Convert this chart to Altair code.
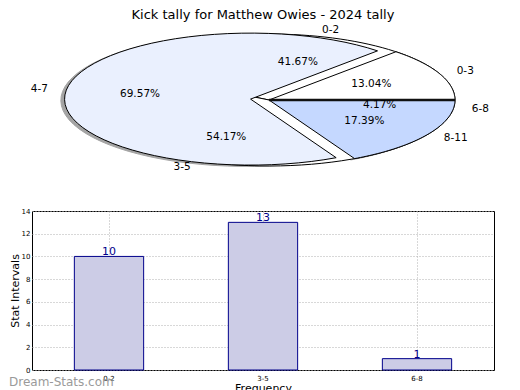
import altair as alt
import pandas as pd

TITLE = "Kick tally for Matthew Owies - 2024 tally"

# Pie A (drawn underneath)
pie_a_labels = ["0-2", "3-5", "6-8"]
pie_a_values = [10, 13, 1]
pie_a_colors = ["#ffffff", "#ffffff", "#ffffff"]
pie_a_explode = [0.0, 0.0, 0.0]

# Pie B (drawn on top)
pie_b_labels = ["0-3", "4-7", "8-11"]
pie_b_values = [3, 16, 4]
pie_b_colors = ["#ffffff", "#eaf0fe", "#c5d8ff"]
pie_b_explode = [0.0, 0.1, 0.0]

# Bar chart
bar_categories = ["0-2", "3-5", "6-8"]
bar_values = [10, 13, 1]
y_ticks = [0, 2, 4, 6, 8, 10, 12, 14]

rows = []
for pie, labs, vals, cols, exps in (("a", pie_a_labels, pie_a_values, pie_a_colors, pie_a_explode),
                                    ("b", pie_b_labels, pie_b_values, pie_b_colors, pie_b_explode)):
    for i, (l, v, c, e) in enumerate(zip(labs, vals, cols, exps)):
        rows.append({"pie": pie, "slot": i, "label": l, "value": v, "color": c, "explode": e})
pie_df = pd.DataFrame(rows)

N = 60  # arc resolution

xs = alt.Scale(domain=[-1.2742, 1.2097], nice=False, zero=False)
ys = alt.Scale(domain=[-1.1667, 1.1515], nice=False, zero=False)

base = (
    alt.Chart(pie_df)
    .transform_joinaggregate(total="sum(value)", groupby=["pie"])
    .transform_window(cum="sum(value)", sort=[alt.SortField("slot")], groupby=["pie"])
    .transform_calculate(a0="2*PI*(datum.cum - datum.value)/datum.total")
    .transform_calculate(a1="2*PI*datum.cum/datum.total")
    .transform_calculate(mid="(datum.a0 + datum.a1)/2")
    .transform_calculate(ex="datum.explode*cos(datum.mid)")
    .transform_calculate(ey="datum.explode*sin(datum.mid)")
    .transform_calculate(pct="format(100*datum.value/datum.total, '.2f') + '%'")
)

poly = (
    base.transform_calculate(t=f"sequence(0, {N + 3})")
    .transform_flatten(["t"])
    .transform_calculate(ang=f"datum.a0 + (datum.a1 - datum.a0)*clamp(datum.t - 1, 0, {N})/{N}")
    .transform_calculate(edge=f"(datum.t >= 1 && datum.t <= {N + 1}) ? 1 : 0")
    .transform_calculate(px="datum.ex + datum.edge*cos(datum.ang)")
    .transform_calculate(py="datum.ey + datum.edge*sin(datum.ang)")
    .transform_calculate(sx="datum.px - 0.02")
    .transform_calculate(sy="datum.py - 0.02")
)

shadow = poly.transform_filter(alt.datum.pie == "b").mark_line(
    fill="#4c4c4c", stroke="#4c4c4c", strokeWidth=1, opacity=0.5
).encode(
    x=alt.X("sx:Q", scale=xs, axis=None),
    y=alt.Y("sy:Q", scale=ys, axis=None),
    order="t:Q",
    detail="label:N",
)

def wedges(which):
    return poly.transform_filter(alt.datum.pie == which).mark_line(
        stroke="black", strokeWidth=1
    ).encode(
        x=alt.X("px:Q", scale=xs, axis=None),
        y=alt.Y("py:Q", scale=ys, axis=None),
        order="t:Q",
        detail="label:N",
        fill=alt.Fill("color:N", scale=None),
    )

# heavy edge where both pies start (angle of first slice)
start_edge = (
    base.transform_filter((alt.datum.pie == "b") & (alt.datum.slot == 0))
    .transform_calculate(ox="datum.ex", oy="datum.ey")
    .transform_calculate(rx="datum.ex + cos(datum.a0)", ry="datum.ey + sin(datum.a0)")
    .mark_rule(color="#111111", strokeWidth=2.5)
    .encode(
        x=alt.X("ox:Q", scale=xs, axis=None), y=alt.Y("oy:Q", scale=ys, axis=None),
        x2="rx:Q", y2="ry:Q",
    )
)

lab = (
    base.transform_calculate(lx="datum.ex + 1.1*cos(datum.mid)")
    .transform_calculate(ly="datum.ey + 1.1*sin(datum.mid)")
    .transform_calculate(qx="datum.ex + 0.6*cos(datum.mid)")
    .transform_calculate(qy="datum.ey + 0.6*sin(datum.mid)")
)

right_labels = lab.transform_filter("cos(datum.mid) > 0").mark_text(
    align="left", baseline="middle", fontSize=10.5, color="black"
).encode(x=alt.X("lx:Q", scale=xs, axis=None), y=alt.Y("ly:Q", scale=ys, axis=None), text="label:N")

left_labels = lab.transform_filter("cos(datum.mid) <= 0").mark_text(
    align="right", baseline="middle", fontSize=10.5, color="black"
).encode(x=alt.X("lx:Q", scale=xs, axis=None), y=alt.Y("ly:Q", scale=ys, axis=None), text="label:N")

pct_labels = lab.mark_text(align="center", baseline="middle", fontSize=10.5, color="black").encode(
    x=alt.X("qx:Q", scale=xs, axis=None), y=alt.Y("qy:Q", scale=ys, axis=None), text="pct:N"
)

pie_chart = alt.layer(
    shadow, wedges("a"), wedges("b"), start_edge, pct_labels, right_labels, left_labels
).properties(
    width=462, height=153,
    title=alt.TitleParams(TITLE, fontSize=13, fontWeight="normal", anchor="middle", frame="group", offset=2, color="black"),
    view=alt.ViewBackground(stroke="transparent"),
)

bar_df = pd.DataFrame({"cat": bar_categories, "val": bar_values})

xb = alt.X(
    "cat:N", sort=bar_categories,
    scale=alt.Scale(paddingInner=0, paddingOuter=0),
    axis=alt.Axis(title="Frequency", labelAngle=0, labelFontSize=7, grid=True, gridDash=[1, 2],
                  gridColor="#b0b0b0", gridOpacity=1, ticks=False, domain=False, labelPadding=4,
                  bandPosition=0.5,
                  titleFontSize=11, titlePadding=1, titleFontWeight="normal", labelColor="black", titleColor="black"),
)
yb = alt.Y(
    "val:Q", scale=alt.Scale(domain=[0, 14], nice=False),
    axis=alt.Axis(title="Stat Intervals", values=y_ticks, labelFontSize=7, grid=True, gridDash=[1, 2],
                  gridColor="#b0b0b0", gridOpacity=1, ticks=False, domain=False, labelPadding=2,
                  labelOverlap=False, labelFlush=False,
                  titleFontSize=11, titlePadding=1, titleFontWeight="normal", labelColor="black", titleColor="black"),
)

bars = alt.Chart(bar_df).mark_bar(
    fill="#ccccE6", stroke="#00008b", strokeWidth=1, width=alt.RelativeBandSize(0.45)
).encode(x=xb, y=yb)

bar_text = alt.Chart(bar_df).mark_text(
    color="#00008b", baseline="alphabetic", fontSize=11, dy=-1
).encode(x=xb, y=yb, text="val:Q")

wm_df = pd.DataFrame({"w": ["Dream-Stats.com"]})
watermark = alt.Chart(wm_df).mark_text(
    align="left", baseline="middle", fontSize=12, color="#9a9a9a"
).encode(x=alt.value(-23), y=alt.value(171), text="w:N")

bar_chart = alt.layer(bars, bar_text, watermark).properties(
    width=462, height=159,
    view=alt.ViewBackground(stroke="black", strokeWidth=1),
)

chart = alt.vconcat(pie_chart, bar_chart, spacing=28).properties(padding=0).configure(
    font="DejaVu Sans"
)

chart.save("out.html", embed_options={"renderer": "svg", "actions": False})
